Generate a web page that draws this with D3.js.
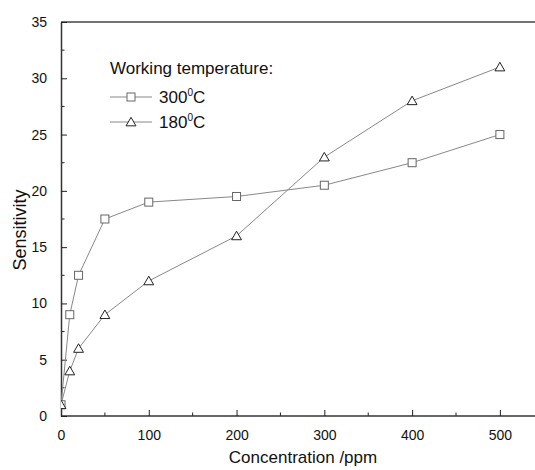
<!DOCTYPE html>
<html>
<head>
<meta charset="utf-8">
<script src="https://cdn.jsdelivr.net/npm/d3@7"></script>
<style>
  body { margin: 0; background: #fff; }
  text { font-family: "Liberation Sans", Arial, sans-serif; fill: #111; }
</style>
</head>
<body>
<div id="chart"></div>
<script>
const concentration = [0, 10, 20, 50, 100, 200, 300, 400, 500];
const sens300 = [1, 9, 12.5, 17.5, 19, 19.5, 20.5, 22.5, 25];
const sens180 = [1, 4, 6, 9, 12, 16, 23, 28, 31];
const xTicks = [0, 100, 200, 300, 400, 500];
const yTicks = [0, 5, 10, 15, 20, 25, 30, 35];
const legendLabels = ["300", "180"];

function drawChart() {
    const W = 535, H = 470;
    const margin = {top: 22, right: 0, bottom: 54, left: 61};
    const width = W - margin.left - margin.right;
    const height = H - margin.top - margin.bottom;

    const svg = d3.select("#chart").append("svg")
        .attr("width", W)
        .attr("height", H);

    svg.append("defs").append("clipPath").attr("id", "plotclip")
        .append("rect").attr("x", 0).attr("y", 0)
        .attr("width", width).attr("height", height);

    const g = svg.append("g")
        .attr("transform", `translate(${margin.left},${margin.top})`);

    const x = d3.scaleLinear().domain([0, 540]).range([0, 474]);
    const y = d3.scaleLinear().domain([0, 35]).range([height, 0]);

    // frame top
    g.append("line")
        .attr("x1", 0).attr("x2", width)
        .attr("y1", 0).attr("y2", 0)
        .attr("stroke", "#444").attr("stroke-width", 1.5);

    // minor ticks
    g.selectAll(".xminor")
        .data(d3.range(50, 540, 100))
        .join("line")
        .attr("x1", d => x(d)).attr("x2", d => x(d))
        .attr("y1", height).attr("y2", height - 3.5)
        .attr("stroke", "#222");
    g.selectAll(".yminor")
        .data(d3.range(2.5, 35, 5))
        .join("line")
        .attr("y1", d => y(d)).attr("y2", d => y(d))
        .attr("x1", 0).attr("x2", 3.5)
        .attr("stroke", "#222");

    const xAxis = g.append("g")
        .attr("transform", `translate(0,${height})`)
        .call(d3.axisBottom(x).tickValues(xTicks).tickSize(-6).tickPadding(14).tickSizeOuter(0));
    const yAxis = g.append("g")
        .call(d3.axisLeft(y).tickValues(yTicks).tickSize(-6).tickPadding(14).tickSizeOuter(0));

    [xAxis, yAxis].forEach(a => {
        a.select(".domain").attr("stroke", "#333").attr("stroke-width", 1.5);
        a.selectAll(".tick line").attr("stroke", "#222");
        a.selectAll("text").style("font-size", "14px")
            .style("font-family", "'Liberation Sans', Arial, sans-serif").attr("fill", "#111");
    });
    // extend x axis line to the right edge
    xAxis.select(".domain").attr("d", `M0,0H${width}`);

    g.append("text")
        .attr("x", 242).attr("y", height + 47)
        .attr("text-anchor", "middle")
        .style("font-size", "17px")
        .text("Concentration /ppm");

    g.append("text")
        .attr("transform", "rotate(-90)")
        .attr("x", -208).attr("y", -35)
        .attr("text-anchor", "middle")
        .style("font-size", "18px")
        .text("Sensitivity");

    const line = d3.line().x(d => x(d[0])).y(d => y(d[1]));
    const s300 = concentration.map((c, i) => [c, sens300[i]]);
    const s180 = concentration.map((c, i) => [c, sens180[i]]);

    const tri = d3.symbol().type(d3.symbolTriangle).size(42);

    const plot = g.append("g").attr("clip-path", "url(#plotclip)");

    [s300, s180].forEach(s => {
        plot.append("path").datum(s)
            .attr("d", line)
            .attr("fill", "none")
            .attr("stroke", "#888")
            .attr("stroke-width", 1);
    });

    plot.selectAll(".sq").data(s300).join("rect")
        .attr("x", d => x(d[0]) - 4).attr("y", d => y(d[1]) - 4)
        .attr("width", 8).attr("height", 8)
        .attr("fill", "#fff").attr("stroke", "#666");

    plot.selectAll(".tri").data(s180).join("path")
        .attr("d", tri)
        .attr("transform", d => `translate(${x(d[0])},${y(d[1]) + 1})`)
        .attr("fill", "#fff").attr("stroke", "#222");

    // legend
    const lg = svg.append("g");
    lg.append("text").attr("x", 110).attr("y", 74)
        .style("font-size", "17px").text("Working temperature:");
    legendLabels.forEach((lab, i) => {
        const cy = 97 + i * 25;
        lg.append("line").attr("x1", 110).attr("x2", 152)
            .attr("y1", cy).attr("y2", cy)
            .attr("stroke", "#888");
        if (i === 0) {
            lg.append("rect").attr("x", 127).attr("y", cy - 4)
                .attr("width", 8).attr("height", 8)
                .attr("fill", "#fff").attr("stroke", "#666");
        } else {
            lg.append("path").attr("d", tri)
                .attr("transform", `translate(131,${cy + 1})`)
                .attr("fill", "#fff").attr("stroke", "#222");
        }
        const t = lg.append("text").attr("x", 159).attr("y", cy + 6)
            .style("font-size", "17px");
        t.append("tspan").text(lab);
        t.append("tspan").attr("dy", -7).style("font-size", "10px").text("0");
        t.append("tspan").attr("dy", 7).text("C");
    });
}

document.addEventListener("DOMContentLoaded", drawChart);
</script>
</body>
</html>
